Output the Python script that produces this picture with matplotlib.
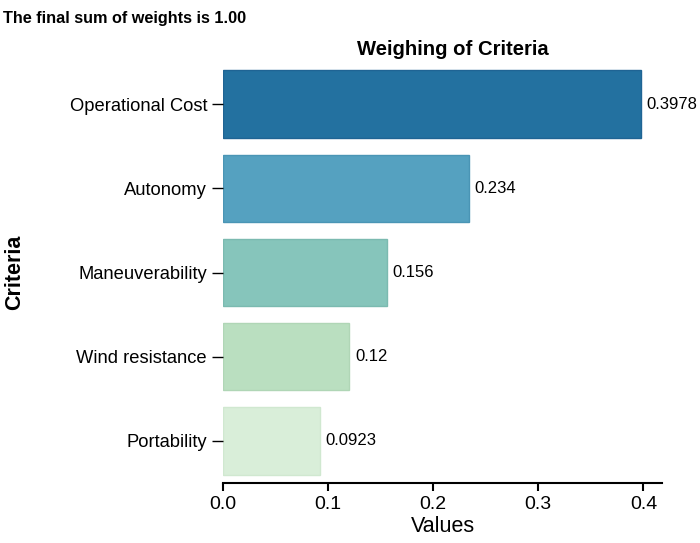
import matplotlib.pyplot as plt

criterios = ['Operational Cost', 'Autonomy', 'Maneuverability', 'Wind resistance', 'Portability']
pesos = [0.3978, 0.234, 0.156, 0.12, 0.0923]
etiquetas = ['0.3978', '0.234', '0.156', '0.12', '0.0923']
colores = ['#2371a0', '#55a1c0', '#86c5bb', '#badfc0', '#d9eed9']
bordes = ['#1f6494', '#4a95b5', '#7bbab0', '#b0d6b6', '#d0e8d0']

plt.rcParams['font.family'] = ['Liberation Sans', 'DejaVu Sans']

fig = plt.figure(figsize=(7, 5.43), dpi=100)
ax = fig.add_axes([0.3186, 0.1105, 0.6271, 0.7753])

pos = list(range(len(criterios)))
ax.barh(pos, pesos, height=0.8, color=colores, edgecolor=bordes, linewidth=1)
ax.set_ylim(len(criterios) - 0.5, -0.5)
ax.set_xlim(0, max(pesos) * 1.05)
ax.set_yticks(pos)
ax.set_yticklabels(criterios, fontsize=13.2)
ax.set_xticks([0.0, 0.1, 0.2, 0.3, 0.4])
ax.set_xticklabels(['0.0', '0.1', '0.2', '0.3', '0.4'], fontsize=14)

for p, v, t in zip(pos, pesos, etiquetas):
    ax.text(v + 0.0055, p, t, va='center', ha='left', fontsize=12)

for s in ['top', 'right', 'left']:
    ax.spines[s].set_visible(False)
ax.spines['bottom'].set_linewidth(1.5)
ax.tick_params(axis='y', length=8, width=1)
ax.tick_params(axis='x', length=6, width=1.5)

ax.set_xlabel('Values', fontsize=15.5, labelpad=2)
ax.set_ylabel('Criteria', fontsize=15.5, fontweight='bold', labelpad=32)
ax.set_title('Weighing of Criteria', fontsize=14.6, fontweight='bold', pad=5, x=0.524)
fig.text(0.004, 0.98, 'The final sum of weights is 1.00', fontsize=11.7,
         fontweight='bold', va='top', ha='left')

plt.savefig('out.png')
plt.close()
